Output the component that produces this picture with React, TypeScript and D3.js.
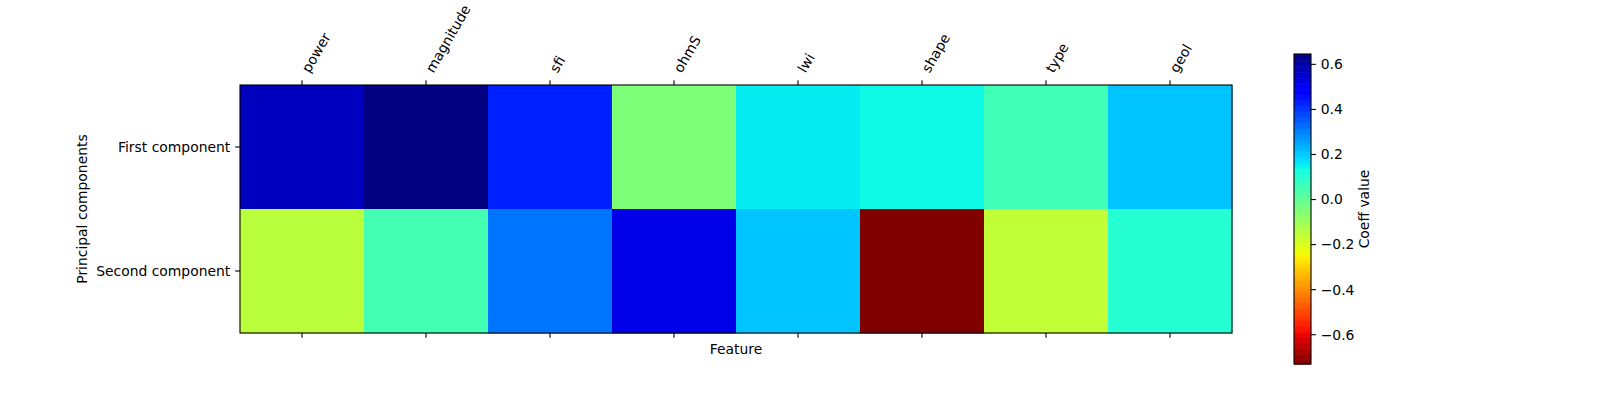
import * as d3 from "d3";

const features = ["power", "magnitude", "sfi", "ohmS", "lwi", "shape", "type", "geol"];
const components = ["First component", "Second component"];
const firstComponent = [0.569, 0.646, 0.431, -0.042, 0.155, 0.138, 0.057, 0.206];
const secondComponent = [-0.147, 0.053, 0.313, 0.522, 0.21, -0.73, -0.155, 0.1];
const colorbarTicks = [0.6, 0.4, 0.2, 0.0, -0.2, -0.4, -0.6];

const WIDTH = 1600;
const HEIGHT = 400;
const FONT = "DejaVu Sans, sans-serif";
const FS = 13.9;

const PLOT = { left: 240, top: 85, width: 992, height: 248 };
const CBAR = { left: 1294, top: 54, width: 17, height: 310 };

// matplotlib "jet" segment data
const jetR = d3.scaleLinear<number>().domain([0, 0.35, 0.66, 0.89, 1]).range([0, 0, 1, 1, 0.5]).clamp(true);
const jetG = d3.scaleLinear<number>().domain([0, 0.125, 0.375, 0.64, 0.91, 1]).range([0, 0, 1, 1, 0, 0]).clamp(true);
const jetB = d3.scaleLinear<number>().domain([0, 0.11, 0.34, 0.65, 1]).range([0.5, 1, 1, 0, 0]).clamp(true);
const jet = (t: number) => {
  const q = Math.floor(Math.min(Math.max(t, 0), 0.99999) * 256) / 255;
  return d3.rgb(jetR(q) * 255, jetG(q) * 255, jetB(q) * 255).formatHex();
};

export default function App() {
  const rows = [firstComponent, secondComponent];
  const all = rows.flat();
  const [vmin, vmax] = d3.extent(all) as [number, number];
  // reversed jet: high values dark blue, low values dark red
  const color = (v: number) => jet((vmax - v) / (vmax - vmin));

  const x = d3.scaleBand<string>().domain(features).range([PLOT.left, PLOT.left + PLOT.width]);
  const y = d3.scaleBand<string>().domain(components).range([PLOT.top, PLOT.top + PLOT.height]);
  const cy = d3.scaleLinear().domain([vmin, vmax]).range([CBAR.top + CBAR.height, CBAR.top]);

  const tickLen = 4.86;
  const pad = 4.86;
  const steps = d3.range(256);
  const stepH = CBAR.height / 256;

  return (
    <svg
      width={WIDTH}
      height={HEIGHT}
      style={{ position: "absolute", left: 0, top: 0, background: "#fff" }}
      fontFamily={FONT}
      fontSize={FS}
    >
      {/* heatmap cells */}
      {rows.map((row, r) =>
        row.map((v, i) => (
          <rect
            key={`${r}-${i}`}
            x={x(features[i])}
            y={y(components[r])}
            width={x.bandwidth() + 0.5}
            height={y.bandwidth() + 0.5}
            fill={color(v)}
          />
        ))
      )}
      <rect x={PLOT.left} y={PLOT.top} width={PLOT.width} height={PLOT.height} fill="none" stroke="#000" strokeWidth={1.1} />

      {/* x ticks (top labels, bottom ticks) */}
      {features.map((f) => {
        const cx = (x(f) as number) + x.bandwidth() / 2;
        const ly = PLOT.top - tickLen - pad;
        return (
          <g key={f}>
            <line x1={cx} x2={cx} y1={PLOT.top} y2={PLOT.top - tickLen} stroke="#000" strokeWidth={1.1} />
            <line x1={cx} x2={cx} y1={PLOT.top + PLOT.height} y2={PLOT.top + PLOT.height + tickLen} stroke="#000" strokeWidth={1.1} />
            <text transform={`translate(${cx + 10.4},${ly}) rotate(-60)`} dy={-3.3} textAnchor="start" fill="#000">
              {f}
            </text>
          </g>
        );
      })}

      {/* y ticks */}
      {components.map((c) => {
        const yy = (y(c) as number) + y.bandwidth() / 2;
        return (
          <g key={c}>
            <line x1={PLOT.left} x2={PLOT.left - tickLen} y1={yy} y2={yy} stroke="#000" strokeWidth={1.1} />
            <text x={PLOT.left - tickLen - pad} y={yy} dy="0.35em" textAnchor="end" fill="#000">
              {c}
            </text>
          </g>
        );
      })}

      <text x={PLOT.left + PLOT.width / 2} y={354} textAnchor="middle" fill="#000">
        Feature
      </text>
      <text transform={`translate(87,${PLOT.top + PLOT.height / 2}) rotate(-90)`} textAnchor="middle" fill="#000">
        Principal components
      </text>

      {/* colorbar */}
      {steps.map((s) => (
        <rect
          key={s}
          x={CBAR.left}
          y={CBAR.top + s * stepH}
          width={CBAR.width}
          height={stepH + 0.6}
          fill={jet((s + 0.5) / 256)}
        />
      ))}
      <rect x={CBAR.left} y={CBAR.top} width={CBAR.width} height={CBAR.height} fill="none" stroke="#000" strokeWidth={1.1} />
      {colorbarTicks.map((t) => (
        <g key={t}>
          <line x1={CBAR.left + CBAR.width} x2={CBAR.left + CBAR.width + tickLen} y1={cy(t)} y2={cy(t)} stroke="#000" strokeWidth={1.1} />
          <text x={CBAR.left + CBAR.width + tickLen + pad} y={cy(t)} dy="0.35em" fill="#000">
            {d3.format(".1f")(t).replace("-", "\u2212")}
          </text>
        </g>
      ))}
      <text transform={`translate(1369,${CBAR.top + CBAR.height / 2}) rotate(-90)`} textAnchor="middle" fill="#000">
        Coeff value
      </text>
    </svg>
  );
}
